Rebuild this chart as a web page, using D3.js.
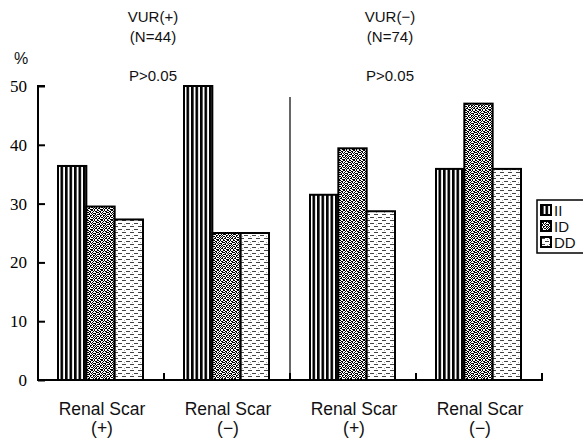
<!DOCTYPE html>
<html>
<head>
<meta charset="utf-8">
<script src="https://cdn.jsdelivr.net/npm/d3@7"></script>
<style>
body { margin: 0; background: #fff; }
svg { display: block; }
</style>
</head>
<body>
<script>
var width = 583;
var height = 440;

var categories = ["Renal Scar|(+)", "Renal Scar|(−)", "Renal Scar|(+)", "Renal Scar|(−)"];
var series = ["II", "ID", "DD"];
var valuesII = [36.4, 50, 31.5, 35.9];
var valuesID = [29.5, 25, 39.4, 47];
var valuesDD = [27.3, 25, 28.7, 35.9];
var yTicks = [0, 10, 20, 30, 40, 50];
var groupTitles = [["VUR(+)", "(N=44)", "P>0.05"], ["VUR(−)", "(N=74)", "P>0.05"]];

var seriesValues = [valuesII, valuesID, valuesDD];

var svg = d3.select("body").append("svg")
    .attr("width", width)
    .attr("height", height);

// fill patterns
var defs = svg.append("defs");
var pII = defs.append("pattern").attr("id", "pII")
    .attr("patternUnits", "userSpaceOnUse").attr("width", 4.5).attr("height", 4);
pII.append("rect").attr("width", 4.5).attr("height", 4).attr("fill", "#fff");
pII.append("rect").attr("x", 0).attr("width", 2.6).attr("height", 4).attr("fill", "#000");

// stipple for ID, hand-laid bitmap
var pID = defs.append("pattern").attr("id", "pID")
    .attr("patternUnits", "userSpaceOnUse").attr("width", 10).attr("height", 10);
pID.append("rect").attr("width", 10).attr("height", 10).attr("fill", "#fff");
var dots = [
    "1001101001",
    "0110010110",
    "1010100011",
    "0101011100",
    "1100100101",
    "0011011010",
    "1010010101",
    "0101101010",
    "1100010110",
    "0011101001"
];
dots.forEach(function(row, r) {
    row.split("").forEach(function(c, k) {
        if (c === "1") pID.append("rect").attr("x", k).attr("y", r)
            .attr("width", 1).attr("height", 1).attr("fill", "#000");
    });
});

var pDD = defs.append("pattern").attr("id", "pDD")
    .attr("patternUnits", "userSpaceOnUse").attr("width", 8).attr("height", 6);
pDD.append("rect").attr("width", 8).attr("height", 6).attr("fill", "#fff");
pDD.append("rect").attr("x", 0).attr("y", 1).attr("width", 4).attr("height", 1).attr("fill", "#444");
pDD.append("rect").attr("x", 4).attr("y", 4).attr("width", 4).attr("height", 1).attr("fill", "#444");
pDD.append("rect").attr("x", 6).attr("y", 2).attr("width", 1).attr("height", 1).attr("fill", "#aaa");

var fills = ["url(#pII)", "url(#pID)", "url(#pDD)"];

var x0 = d3.scaleBand().domain(d3.range(categories.length)).range([38, 542]);
var x1 = d3.scaleBand().domain(series).range([20, 105]);
var y = d3.scaleLinear().domain([0, 50]).range([380, 86]);

// bars
var groups = svg.selectAll("g.grp").data(categories).enter().append("g")
    .attr("class", "grp")
    .attr("transform", function(d, i) { return "translate(" + x0(i) + ",0)"; });

groups.each(function(c, i) {
    d3.select(this).selectAll("rect").data(series).enter().append("rect")
        .attr("x", function(s) { return x1(s); })
        .attr("width", x1.bandwidth())
        .attr("y", function(s, j) { return y(seriesValues[j][i]); })
        .attr("height", function(s, j) { return y(0) - y(seriesValues[j][i]); })
        .attr("fill", function(s, j) { return fills[j]; })
        .attr("stroke", "#000")
        .attr("stroke-width", 2);
});

// y axis
var yAxis = d3.axisRight(y).tickValues(yTicks).tickSize(7).tickFormat("");
svg.append("g").attr("transform", "translate(38,0)").call(yAxis)
    .call(function(g) {
        g.select(".domain").attr("d", "M7,86H0V380").attr("stroke-width", 2);
        g.selectAll(".tick line").attr("stroke-width", 2);
    });
svg.selectAll("text.ylab").data(yTicks).enter().append("text")
    .attr("class", "ylab")
    .attr("x", 27)
    .attr("y", function(d) { return y(d) + 6; })
    .attr("text-anchor", "end")
    .attr("font-family", "Liberation Serif, Times New Roman, serif")
    .attr("font-size", 17)
    .text(function(d) { return d; });

// x axis
svg.append("line").attr("x1", 37).attr("x2", 543).attr("y1", 380).attr("y2", 380)
    .attr("stroke", "#000").attr("stroke-width", 2);
svg.selectAll("line.xt").data(d3.range(1, categories.length + 1)).enter().append("line")
    .attr("class", "xt")
    .attr("x1", function(i) { return x0.range()[0] + i * x0.step(); })
    .attr("x2", function(i) { return x0.range()[0] + i * x0.step(); })
    .attr("y1", 380).attr("y2", 373)
    .attr("stroke", "#000").attr("stroke-width", 2);

// divider between VUR groups
svg.append("line").attr("x1", x0(2)).attr("x2", x0(2)).attr("y1", 97).attr("y2", 380)
    .attr("stroke", "#000").attr("stroke-width", 1.2);

// category labels
var xl = svg.selectAll("text.xlab").data(categories).enter().append("text")
    .attr("class", "xlab")
    .attr("text-anchor", "middle")
    .attr("font-family", "Liberation Sans, Arial, sans-serif")
    .attr("font-size", 17.5)
    .attr("fill", "#111");
xl.append("tspan")
    .attr("x", function(d, i) { return x0(i) + x0.bandwidth() / 2 + 1; })
    .attr("y", 415)
    .text(function(d) { return d.split("|")[0]; });
xl.append("tspan")
    .attr("x", function(d, i) { return x0(i) + x0.bandwidth() / 2 + 1; })
    .attr("y", 434)
    .text(function(d) { return d.split("|")[1]; });

// group titles
groupTitles.forEach(function(t, k) {
    var cx = x0(k * 2) + x0.step() + (k === 0 ? -11 : -26);
    var g = svg.append("text")
        .attr("text-anchor", "middle")
        .attr("font-family", "Liberation Sans, Arial, sans-serif")
        .attr("font-size", 15)
        .attr("fill", "#111");
    g.append("tspan").attr("x", cx).attr("y", 22).text(t[0]);
    g.append("tspan").attr("x", cx).attr("y", 42).text(t[1]);
    g.append("tspan").attr("x", cx).attr("y", 81).text(t[2]);
});

svg.append("text").attr("x", 14).attr("y", 64)
    .attr("font-family", "Liberation Sans, Arial, sans-serif")
    .attr("font-size", 16).attr("fill", "#111").text("%");

// legend
var legend = svg.append("g").attr("transform", "translate(537,200)");
legend.append("rect").attr("width", 60).attr("height", 53)
    .attr("fill", "#fff").attr("stroke", "#000").attr("stroke-width", 1.5);
series.forEach(function(s, j) {
    var row = legend.append("g").attr("transform", "translate(4," + (5 + j * 16) + ")");
    row.append("rect").attr("width", 10).attr("height", 10)
        .attr("fill", fills[j]).attr("stroke", "#000").attr("stroke-width", 2);
    row.append("text").attr("x", 13).attr("y", 11)
        .attr("font-family", "Liberation Sans, Arial, sans-serif")
        .attr("font-size", 15).attr("fill", "#111").text(s);
});
</script>
</body>
</html>
